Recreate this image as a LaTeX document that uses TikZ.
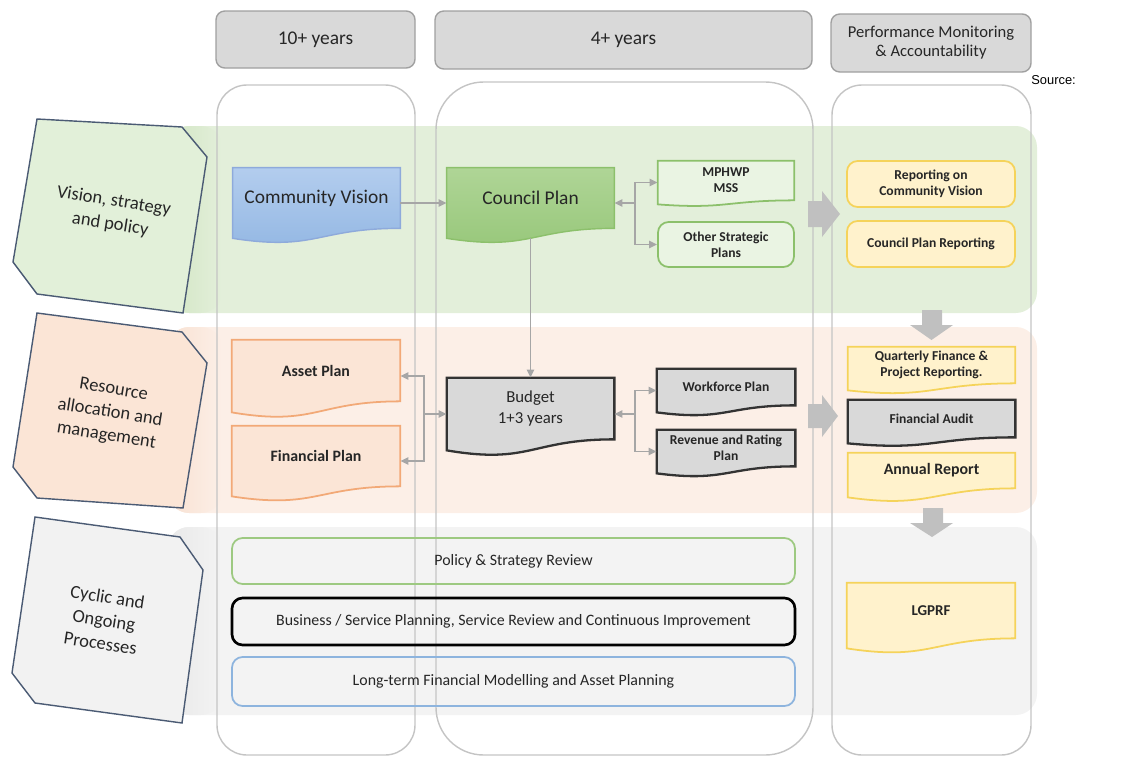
\documentclass[tikz,border=0pt]{standalone}
\usepackage{fontspec}
\setmainfont{Carlito}
\newfontfamily\srcfont{Liberation Sans}
\usetikzlibrary{arrows.meta,calc}

\definecolor{headfill}{HTML}{D9D9D9}
\definecolor{headline}{HTML}{A0A0A0}
\definecolor{colline}{HTML}{C4C4C4}
\definecolor{bandgreen}{HTML}{E3EFDA}
\definecolor{stripgreen}{HTML}{D2E6C4}
\definecolor{bandorange}{HTML}{FCEFE7}
\definecolor{striporange}{HTML}{F8E1D2}
\definecolor{bandgray}{HTML}{F3F3F3}
\definecolor{stripgray}{HTML}{E9E9E9}
\definecolor{sideline}{HTML}{4B5B74}
\definecolor{sidegreen}{HTML}{E2F0D9}
\definecolor{sideorange}{HTML}{FBE5D6}
\definecolor{sidegray}{HTML}{F2F2F2}
\definecolor{linkgray}{HTML}{A6A6A6}
\definecolor{bigarrow}{HTML}{C0C0C0}
\definecolor{bluetop}{HTML}{B3CDEE}
\definecolor{bluebot}{HTML}{93B7E3}
\definecolor{blueline}{HTML}{8EAADB}
\definecolor{greentop}{HTML}{AFD596}
\definecolor{greenbot}{HTML}{97C77A}
\definecolor{greenline}{HTML}{8CC06B}
\definecolor{lightgreen}{HTML}{EAF4E3}
\definecolor{orangefill}{HTML}{FBE5D6}
\definecolor{orangeline}{HTML}{F2A977}
\definecolor{grayfill}{HTML}{D9D9D9}
\definecolor{darkline}{HTML}{333333}
\definecolor{yellowfill}{HTML}{FFF2CC}
\definecolor{yellowline}{HTML}{F5D35A}
\definecolor{textdark}{HTML}{262626}
\definecolor{blueframe}{HTML}{8DB4DE}

\pgfdeclarelayer{bands}
\pgfdeclarelayer{boxes}
\pgfsetlayers{bands,boxes,main}

% wavy bottom of a document box: style, node, wave depth
\newcommand{\docshape}[3]{%
  \begin{pgfonlayer}{boxes}
    \path[#1] (#2.north west) -- (#2.north east) -- (#2.south east)
      .. controls (#2.south) and ($(#2.south)+(0,2.3*#3)$)
      .. ($(#2.south west)+(0,#3)$) -- cycle;
  \end{pgfonlayer}
  \coordinate (#2-e) at ($(#2.east)+(0,#3/2)$);
  \coordinate (#2-w) at ($(#2.west)+(0,#3/2)$);
  \coordinate (#2-s) at ($(#2.south)+(0,#3)$);
}

\begin{document}
\begin{tikzpicture}[x=0.5665pt,y=-0.5665pt,>={Triangle[length=4.5pt,width=4pt]},
    box/.style 2 args={minimum width=#1*0.5665pt,minimum height=#2*0.5665pt},
    head node/.style={draw=headline,fill=headfill,rounded corners=5pt,line width=0.8pt,
      text=textdark,align=center,inner sep=0pt},
    doc node/.style={inner sep=0pt,align=center,text=textdark,
      font=\bfseries\fontsize{7.7}{9.2}\selectfont},
    round node/.style={rounded corners=6pt,inner sep=0pt,align=center,text=textdark,
      line width=1pt,font=\bfseries\fontsize{7.7}{9.2}\selectfont},
    wide node/.style={round node,font=\fontsize{9}{11}\selectfont},
    link/.style={draw=linkgray,line width=1.1pt},
    side shape/.style={draw=sideline,line width=0.8pt},
    side label/.style={align=center,text=textdark,font=\fontsize{10.5}{13.2}\selectfont,rotate=-9},
    band/.style={rounded corners=12pt},
    col line/.style={draw=colline,line width=0.8pt},
    big arrow/.style={fill=bigarrow},
    blue doc/.style={draw=blueline,line width=0.8pt,top color=bluetop,bottom color=bluebot},
    green doc/.style={draw=greenline,line width=0.8pt,top color=greentop,bottom color=greenbot},
    pale doc/.style={draw=greenline,line width=1pt,fill=lightgreen},
    orange doc/.style={draw=orangeline,line width=1pt,fill=orangefill},
    gray doc/.style={draw=darkline,line width=1.3pt,fill=grayfill},
    yellow doc/.style={draw=yellowline,line width=1pt,fill=yellowfill}]

  \useasboundingbox (0,0) rectangle (1139,760);

  % bands and columns
  \begin{pgfonlayer}{bands}
    \fill[band,bandgreen] (168,126) rectangle (1037,313);
    \shade[band,left color=stripgreen,right color=bandgreen] (168,126) rectangle (222,313);
    \fill[band,bandorange] (168,327) rectangle (1037,513);
    \shade[band,left color=striporange,right color=bandorange] (168,327) rectangle (222,513);
    \fill[band,bandgray] (168,527) rectangle (1037,715);
    \shade[band,left color=stripgray,right color=bandgray] (168,527) rectangle (222,715);
    \draw[col line,rounded corners=17pt] (217,85) rectangle (415,755);
    \draw[col line,rounded corners=27pt] (436,82) rectangle (813,755);
    \draw[col line,rounded corners=17pt] (832,85) rectangle (1031,755);
  \end{pgfonlayer}

  % headers
  \node[head node,box={199}{57},font=\fontsize{11}{13}\selectfont] (h10) at (315.5,39.5) {10+ years};
  \node[head node,box={377}{58},font=\fontsize{11}{13}\selectfont] (h4) at (623.5,40) {4+ years};
  \node[head node,box={200}{58},font=\fontsize{9.4}{10.8}\selectfont] (hpm) at (931,43)
    {Performance Monitoring\\\& Accountability};
  \node[font=\srcfont\fontsize{7.3}{8}\selectfont,anchor=west,inner sep=0pt] (src) at (1031,80) {Source:};

  % row labels
  \draw[side shape,fill=sidegreen] (37,119) -- (182,127) -- (207,157) -- (183,313) -- (37,294) -- (13,262) -- cycle;
  \node[side label] (lvis) at (112,213) {Vision, strategy\\and policy};
  \draw[side shape,fill=sideorange] (37,313) -- (182,332) -- (207,363) -- (183,508) -- (37,498) -- (13,467) -- cycle;
  \node[side label] (lres) at (110,413) {Resource\\allocation and\\management};
  \draw[side shape,fill=sidegray] (35,517) -- (180,537) -- (203,570) -- (182,723) -- (35,703) -- (12,673) -- cycle;
  \node[side label] (lcyc) at (104,620) {Cyclic and\\Ongoing\\Processes};

  % big arrows
  \fill[big arrow] (808,201) -- (822,201) -- (822,191) -- (840,214) -- (822,237) -- (822,227) -- (808,227) -- cycle;
  \fill[big arrow] (808,404) -- (822,404) -- (822,395) -- (838,416) -- (822,437) -- (822,428) -- (808,428) -- cycle;
  \fill[big arrow] (922,310) -- (942,310) -- (942,325) -- (953,325) -- (931.5,340) -- (910,325) -- (922,325) -- cycle;
  \fill[big arrow] (923,508) -- (943,508) -- (943,523) -- (953,523) -- (932,537) -- (910,523) -- (923,523) -- cycle;

  % vision row
  \node[doc node,box={167}{60},font=\fontsize{11}{13}\selectfont] (cv) at (316.5,198) {Community Vision};
  \node[doc node,box={167}{60},font=\fontsize{11}{13}\selectfont] (cp) at (530.5,198) {Council Plan};
  \node[doc node,box={136}{39}] (mph) at (726,180.5) {MPHWP\\MSS};
  \node[round node,draw=greenline,fill=lightgreen,box={136}{45}] (oth) at (726,244.5) {Other Strategic\\Plans};
  \node[round node,draw=yellowline,fill=yellowfill,box={168}{46}] (rcv) at (931,184) {Reporting on\\Community Vision};
  \node[round node,draw=yellowline,fill=yellowfill,box={168}{46}] (cpr) at (931,244) {Council Plan Reporting};
  \docshape{blue doc}{cv}{10}
  \docshape{green doc}{cp}{10}
  \docshape{pale doc}{mph}{4}

  % resource row
  \node[doc node,box={168}{61},font=\bfseries\fontsize{9}{11}\selectfont] (asset) at (316,370.5) {Asset Plan};
  \node[doc node,box={168}{60},font=\bfseries\fontsize{9}{11}\selectfont] (finp) at (316,456) {Financial Plan};
  \node[doc node,box={167}{61},font=\fontsize{9.5}{11.5}\selectfont] (budget) at (530.5,408.5) {Budget\\1+3 years};
  \node[doc node,box={138}{36}] (wf) at (726,387) {Workforce Plan};
  \node[doc node,box={138}{36}] (rev) at (726,448) {Revenue and Rating\\Plan};
  \node[doc node,box={167}{36}] (qfr) at (931.5,365) {Quarterly Finance \&\\Project Reporting.};
  \node[doc node,box={167}{37}] (fa) at (931.5,418.5) {Financial Audit};
  \node[doc node,box={167}{35},font=\bfseries\fontsize{9}{11}\selectfont] (ar) at (931.5,470.5) {Annual Report};
  \docshape{orange doc}{asset}{11}
  \docshape{orange doc}{finp}{10}
  \docshape{gray doc}{budget}{11}
  \docshape{gray doc}{wf}{7}
  \docshape{gray doc}{rev}{7}
  \docshape{yellow doc}{qfr}{7}
  \docshape{gray doc}{fa}{6}
  \docshape{yellow doc}{ar}{9}

  % ongoing row
  \node[wide node,draw=greenline!85,box={563}{46}] (psr) at (513.5,561) {Policy \& Strategy Review};
  \node[wide node,draw=black,line width=1.5pt,box={563}{47}] (bsp) at (513.5,621.5)
    {Business / Service Planning, Service Review and Continuous Improvement};
  \node[wide node,draw=blueframe,box={563}{49}] (ltf) at (513.5,681.5) {Long-term Financial Modelling and Asset Planning};
  \node[doc node,box={168}{55},font=\bfseries\fontsize{8.5}{10}\selectfont] (lgprf) at (931,610.5) {LGPRF};
  \docshape{yellow doc}{lgprf}{10}

  % links
  \draw[link,->] (cv-e) -- (cp-w);
  \draw[link,<-] (cp-e) -- ++(21,0) coordinate (cpfork);
  \draw[link,->] (cpfork) |- (mph-w);
  \draw[link,->] (cpfork) |- (oth.west);
  \draw[link,->] (cp-s) -- (budget.north);
  \draw[link,<-] (budget-w) -- ++(-23,0) coordinate (bwfork);
  \draw[link,->] (bwfork) |- (asset-e);
  \draw[link,->] (bwfork) |- (finp-e);
  \draw[link,<-] (budget-e) -- ++(21,0) coordinate (befork);
  \draw[link,->] (befork) |- (wf-w);
  \draw[link,->] (befork) |- (rev-w);
\end{tikzpicture}
\end{document}
